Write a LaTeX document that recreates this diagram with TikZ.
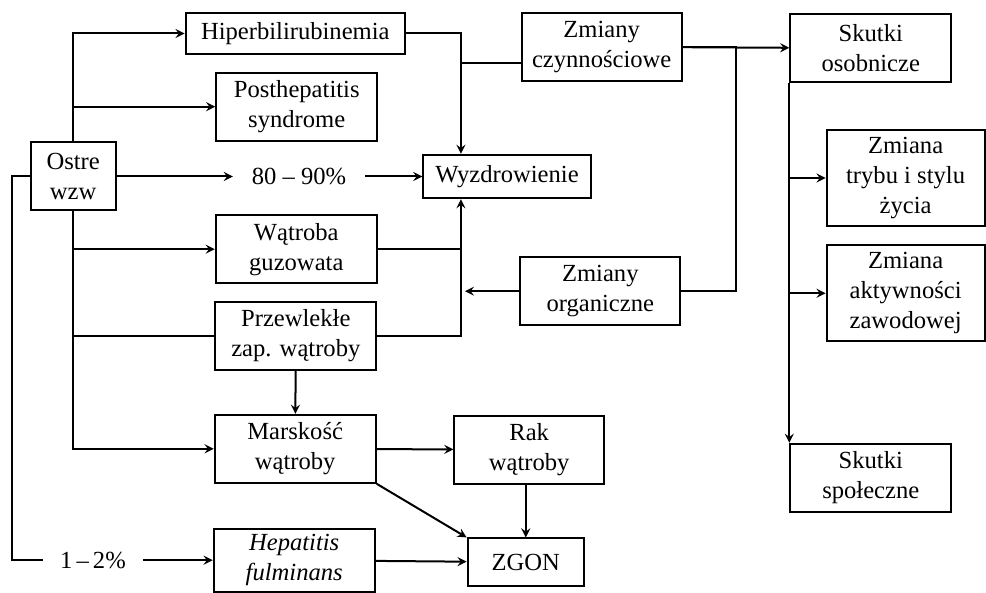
\documentclass[tikz,border=0pt]{standalone}
\usepackage{fontspec}
\setmainfont{Liberation Serif}
\usetikzlibrary{shapes}
\tikzstyle{blok} = [rectangle,draw,text centered,align=center,inner sep=1pt,minimum width=80.5pt,minimum height=34pt]
\tikzstyle{opis} = [inner xsep=9pt,inner ysep=1pt]

\begin{document}
\begin{tikzpicture}[x=0.5pt,y=-0.5pt,line width=1pt,>=stealth,font=\fontsize{12.3}{15}\selectfont]
    	\useasboundingbox (0,0) rectangle (986,593);

    	\node[blok,minimum width=109.7pt,minimum height=20.8pt](hiper) at (295.3,33.5) {Hiperbilirubinemia};
    	\node[blok](post) at (296.7,106.7) {Posthepatitis\\syndrome};
    	\node[blok,minimum width=42.3pt](ostre) at (73.2,176.5) {Ostre\\wzw};
    	\node[opis](p8090) at (299,176.5) {80 -- 90\%};
    	\node[blok,minimum width=83.7pt,minimum height=21.7pt](wyzd) at (507,176.5) {Wyzdrowienie};
    	\node[blok](watroba) at (296.3,249.2) {Wątroba\\guzowata};
    	\node[blok](przew) at (295.8,335.8) {Przewlekłe\\zap. wątroby};
    	\node[blok](marsk) at (295.2,448.8) {Marskość\\wątroby};
    	\node[blok,minimum height=31.6pt](hepat) at (294.2,560.2) {\textit{Hepatitis}\\\textit{fulminans}};
    	\node[opis,inner xsep=8pt](p12) at (93,560.2) {1\,--\,2\%};

    	\node[blok,minimum width=74.8pt](rak) at (529.2,449.7) {Rak\\wątroby};
    	\node[blok,minimum width=58.2pt,minimum height=23.8pt](zgon) at (525.8,562.2) {ZGON};
    	\node[blok,minimum width=80pt](czyn) at (601.7,47.2) {Zmiany\\czynnościowe};
    	\node[blok,minimum width=80pt](organ) at (600.3,291.2) {Zmiany\\organiczne};

    	\node[blok](skos) at (870.8,47.8) {Skutki\\osobnicze};
    	\node[blok,minimum width=79pt,minimum height=48pt](tryb) at (905.6,178) {Zmiana\\trybu i stylu\\życia};
    	\node[blok,minimum width=79pt,minimum height=48pt](aktyw) at (905.6,293.3) {Zmiana\\aktywności\\zawodowej};
    	\node[blok](sspol) at (870.8,477.8) {Skutki\\społeczne};

    	\draw[->] (ostre.north) |- (hiper.west);
    	\draw[->] (ostre.north) |- (post.west);
    	\draw[->] (ostre.south) |- (watroba.west);
    	\draw (ostre.south) |- (przew.west);
    	\draw[->] (ostre.south) |- (marsk.west);
    	\draw[->] (ostre) -- (p8090);
    	\draw[->] (p8090) -- (wyzd);

    	\coordinate (wG) at ([xshift=19.3pt]wyzd.north west);
    	\coordinate (wD) at ([xshift=19.3pt]wyzd.south west);
    	\draw[->] (hiper.east) -| (wG);
    	\draw ([yshift=-7.75pt]czyn.west) -- ([yshift=-7.75pt]czyn.west -| wG);
    	\draw (watroba.east) -- (watroba.east -| wD);
    	\draw[->] (przew.east) -| (wD);
    	\draw[->] (organ.west) -- ([xshift=2pt]organ.west -| wD);

    	\draw[->] (czyn.east) -- (skos.west);
    	\draw (organ.east) -- ++(55,0) |- (czyn.east);
    	\draw[->] (skos.south west) -- (sspol.north west);
    	\draw[->] (skos.south west |- tryb.west) -- (tryb.west);
    	\draw[->] (skos.south west |- aktyw.west) -- (aktyw.west);

    	\draw[->] (przew) -- (marsk);
    	\draw[->] (marsk) -- (rak);
    	\draw[->] (marsk.south east) -- (zgon.north west);
    	\draw[->] (zgon.north |- rak.south) -- (zgon.north);
    	\draw[->] (hepat) -- (zgon);

    	\draw (ostre.west) -- ++(-18,0) |- (p12.west);
    	\draw[->] (p12.east) -- (hepat.west);
\end{tikzpicture}
\end{document}
